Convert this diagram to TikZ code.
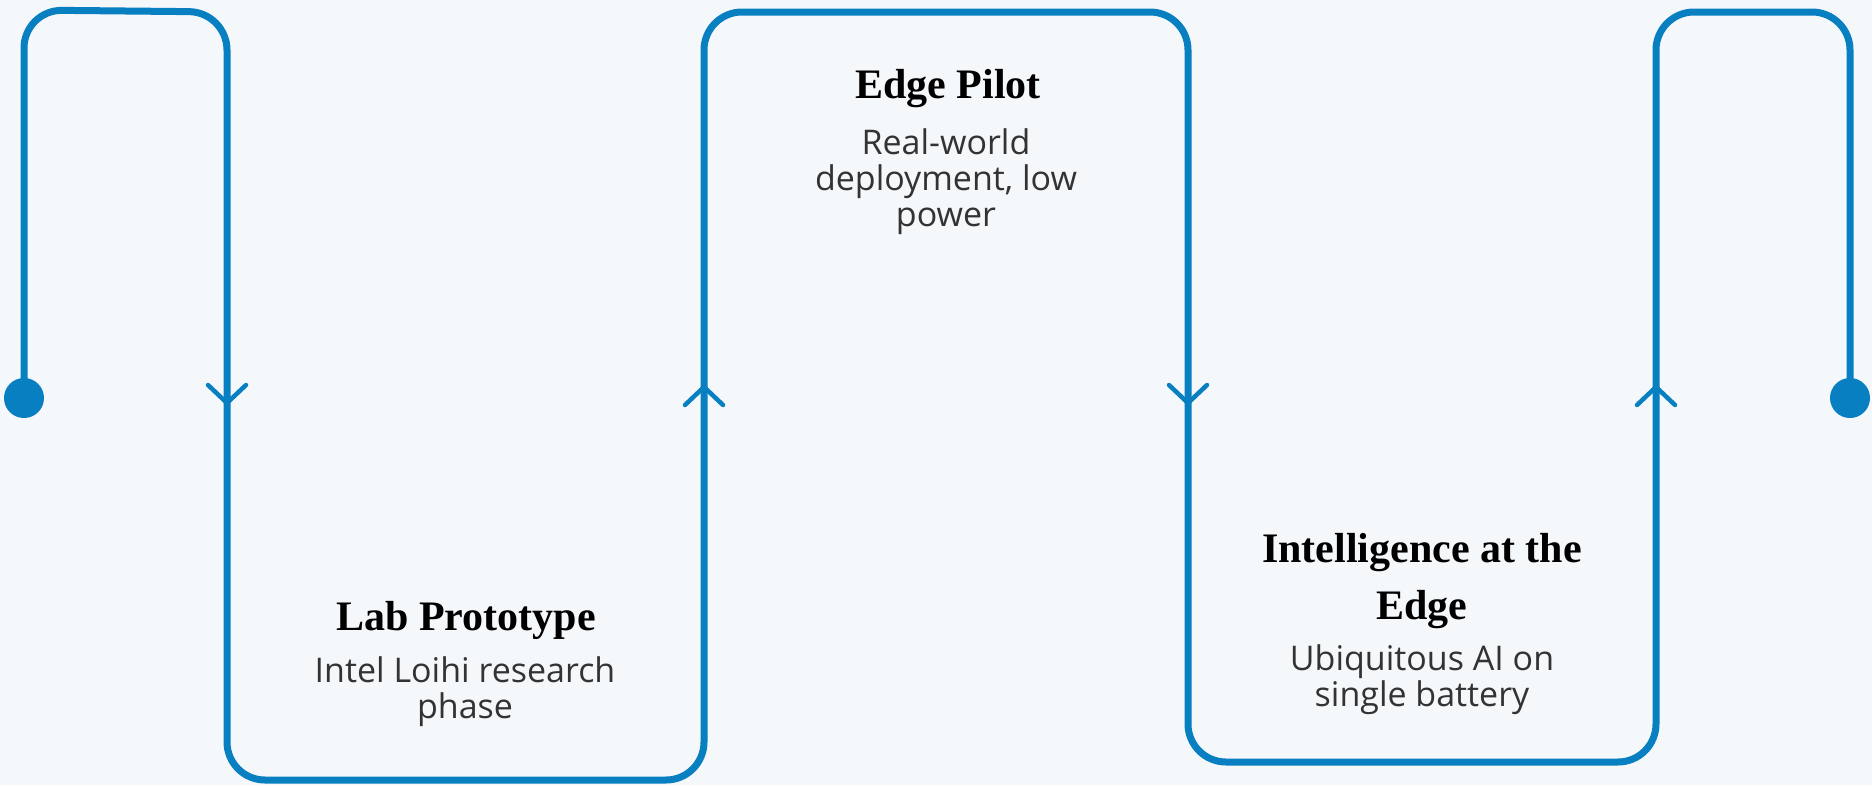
\documentclass[tikz,border=0pt]{standalone}
\usepackage{fontspec}
\setmainfont{Liberation Serif}
\newfontfamily\bodyfont{Open Sans}
\definecolor{flowblue}{RGB}{8,127,192}
\definecolor{paper}{RGB}{245,248,251}
\definecolor{bodygray}{RGB}{51,51,51}
\begin{document}
\begin{tikzpicture}[x=1pt,y=-1pt,
  flow/.style={draw=flowblue, line width=7pt, rounded corners=38pt},
  chevron/.style={draw=flowblue, line width=4.5pt, line cap=round, line join=round},
  enddot/.style={circle, fill=flowblue, minimum size=40pt, inner sep=0pt},
  title/.style={font=\fontsize{42}{57}\selectfont\bfseries, text=black, align=center, inner sep=0pt},
  desc/.style={font=\bodyfont\fontsize{34}{36}\selectfont, text=bodygray, align=center, inner sep=0pt}]
% canvas
\fill[paper] (0,0) rectangle (1872,785);
\useasboundingbox (0,0) rectangle (1872,785);

% turning points of the serpentine path
\coordinate (s) at (24,398);
\coordinate (c1) at (24,10);
\coordinate (c2) at (227,12);
\coordinate (c3) at (227,780);
\coordinate (c4) at (704,780);
\coordinate (c5) at (704,12);
\coordinate (c6) at (1188,12);
\coordinate (c7) at (1188,762);
\coordinate (c8) at (1656,762);
\coordinate (c9) at (1656,12);
\coordinate (c10) at (1850,12);
\coordinate (e) at (1850,398);

\draw[flow] (s) -- (c1) -- (c2) -- (c3) -- (c4) -- (c5) -- (c6) -- (c7) -- (c8) -- (c9) -- (c10) -- (e);

% start and end markers
\node[enddot] (startdot) at (s) {};
\node[enddot] (enddot) at (e) {};

% direction chevrons
\draw[chevron] (208,385) -- (227,403) -- (246,385);
\draw[chevron] (685,405) -- (704,387) -- (723,405);
\draw[chevron] (1169,385) -- (1188,403) -- (1207,385);
\draw[chevron] (1637,405) -- (1656,387) -- (1675,405);

% milestone labels
\node[title] (pilotT) at (948,89) {Edge Pilot};
\node[desc] (pilotD) at (946,182) {Real-world\\deployment, low\\power};

\node[title] (labT) at (466,620) {Lab Prototype};
\node[desc] (labD) at (465,692) {Intel Loihi research\\phase};

\node[title] (edgeT) at (1422,581) {Intelligence at the\\Edge};
\node[desc] (edgeD) at (1422,680) {Ubiquitous AI on\\single battery};
\end{tikzpicture}
\end{document}
